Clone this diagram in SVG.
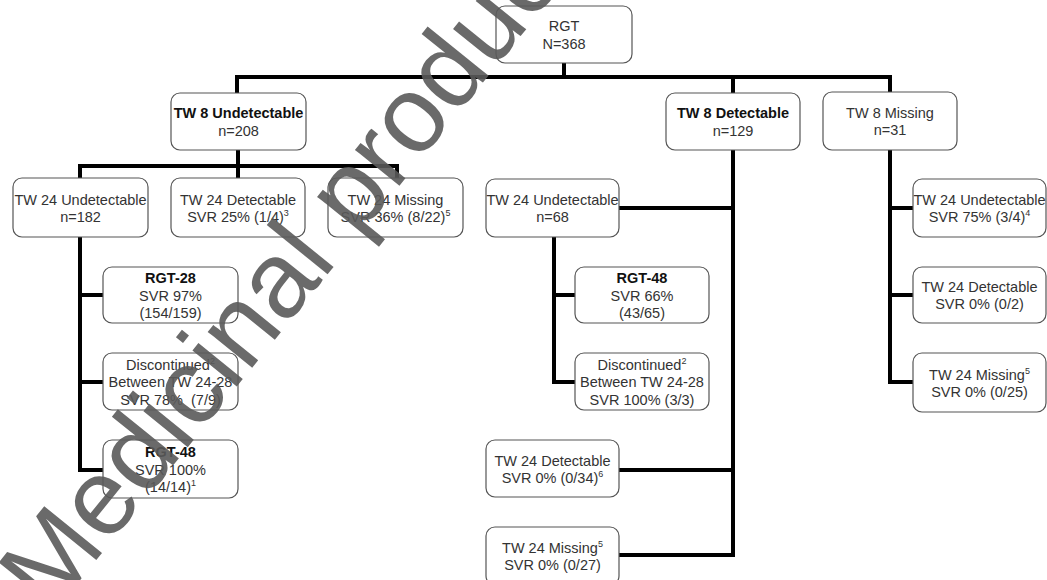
<svg xmlns="http://www.w3.org/2000/svg" width="1047" height="580" viewBox="0 0 1047 580">
<style>
.box{fill:#fff;stroke:#555;stroke-width:1.2}
text{font-family:"Liberation Sans",Arial,sans-serif;font-size:14.5px;fill:#333;text-anchor:middle}
.b{font-weight:bold;fill:#111}
.sup{font-size:9px}
.con{fill:none;stroke:#000;stroke-width:4;stroke-linejoin:miter;stroke-linecap:square}
.wm{font-family:"Liberation Sans",Arial,sans-serif;font-size:108px;fill:#5a5a5a;fill-opacity:0.9;text-anchor:start}
</style>
<rect width="1047" height="580" fill="#fff"/>
<g id="connectors" class="con">
<path d="M564,63 V77 M237,77 H890 M237,77 V93 M733,77 V93 M890,77 V92"/>
<path d="M238,150 V166 M80,166 H397 M80,166 V178 M238,166 V178 M397,166 V178"/>
<path d="M80,237 V470 H103 M80,295 H103 M80,382 H103"/>
<path d="M619,208 H733 M733,150 V555 M619,470 H733 M619,555 H733"/>
<path d="M554,237 V382 H575 M554,295 H575"/>
<path d="M890,150 V382 H913 M890,208 H913 M890,295 H913"/>
</g>
<g id="n_rgt"><rect class="box" x="496" y="6" width="136" height="57" rx="9"/><text x="564" y="31">RGT</text><text x="564" y="48.5">N=368</text></g>
<g id="n_tw8u"><rect class="box" x="171" y="93" width="135" height="57" rx="9"/><text class="b" x="238.5" y="118">TW 8 Undetectable</text><text x="238.5" y="135.5">n=208</text></g>
<g id="n_tw8d"><rect class="box" x="666" y="93" width="134" height="57" rx="9"/><text class="b" x="733" y="118">TW 8 Detectable</text><text x="733" y="135.5">n=129</text></g>
<g id="n_tw8m"><rect class="box" x="823" y="92" width="134" height="58" rx="9"/><text x="890" y="117.5">TW 8 Missing</text><text x="890" y="135">n=31</text></g>
<g id="n_tw24u_a"><rect class="box" x="13" y="178" width="135" height="59" rx="9"/><text x="80.5" y="205">TW 24 Undetectable</text><text x="80.5" y="222">n=182</text></g>
<g id="n_tw24d_a"><rect class="box" x="171" y="178" width="134" height="59" rx="9"/><text x="238" y="205">TW 24 Detectable</text><text x="238" y="222">SVR 25% (1/4)<tspan class="sup" dy="-6">3</tspan></text></g>
<g id="n_tw24m_a"><rect class="box" x="328" y="178" width="135" height="59" rx="9"/><text x="395.5" y="205">TW 24 Missing</text><text x="395.5" y="222">SVR 36% (8/22)<tspan class="sup" dy="-6">5</tspan></text></g>
<g id="n_tw24u_b"><rect class="box" x="486" y="179" width="133" height="58" rx="9"/><text x="552.5" y="205">TW 24 Undetectable</text><text x="552.5" y="222">n=68</text></g>
<g id="n_tw24u_c"><rect class="box" x="913" y="179" width="133" height="58" rx="9"/><text x="979.5" y="205">TW 24 Undetectable</text><text x="979.5" y="222">SVR 75% (3/4)<tspan class="sup" dy="-6">4</tspan></text></g>
<g id="n_tw24d_c"><rect class="box" x="913" y="267" width="133" height="56" rx="9"/><text x="979.5" y="292">TW 24 Detectable</text><text x="979.5" y="309">SVR 0% (0/2)</text></g>
<g id="n_tw24m_c"><rect class="box" x="913" y="353" width="133" height="59" rx="9"/><text x="979.5" y="379.5">TW 24 Missing<tspan class="sup" dy="-6">5</tspan></text><text x="979.5" y="396.5">SVR 0% (0/25)</text></g>
<g id="n_rgt28"><rect class="box" x="103" y="267" width="135" height="56" rx="9"/><text class="b" x="170.5" y="283">RGT-28</text><text x="170.5" y="301">SVR 97%</text><text x="170.5" y="318">(154/159)</text></g>
<g id="n_disc_a"><rect class="box" x="103" y="353" width="135" height="57" rx="9"/><text x="170.5" y="369.5">Discontinued<tspan class="sup" dy="-6">2</tspan></text><text x="170.5" y="387">Between TW 24-28</text><text x="170.5" y="404.5">SVR 78%&#160; (7/9)</text></g>
<g id="n_rgt48_a"><rect class="box" x="103" y="440" width="135" height="58" rx="9"/><text class="b" x="170.5" y="457">RGT-48</text><text x="170.5" y="475">SVR 100%</text><text x="170.5" y="492">(14/14)<tspan class="sup" dy="-6">1</tspan></text></g>
<g id="n_rgt48_b"><rect class="box" x="575" y="267" width="134" height="56" rx="9"/><text class="b" x="642" y="283">RGT-48</text><text x="642" y="301">SVR 66%</text><text x="642" y="318">(43/65)</text></g>
<g id="n_disc_b"><rect class="box" x="575" y="353" width="134" height="57" rx="9"/><text x="642" y="369.5">Discontinued<tspan class="sup" dy="-6">2</tspan></text><text x="642" y="387">Between TW 24-28</text><text x="642" y="404.5">SVR 100% (3/3)</text></g>
<g id="n_tw24d_b"><rect class="box" x="486" y="440" width="133" height="57" rx="9"/><text x="552.5" y="466">TW 24 Detectable</text><text x="552.5" y="483">SVR 0% (0/34)<tspan class="sup" dy="-6">6</tspan></text></g>
<g id="n_tw24m_b"><rect class="box" x="486" y="527" width="133" height="58" rx="9"/><text x="552.5" y="553">TW 24 Missing<tspan class="sup" dy="-6">5</tspan></text><text x="552.5" y="570">SVR 0% (0/27)</text></g>
<g id="watermark"><text class="wm" transform="translate(51,616) rotate(-51)">Medicinal product</text></g>
</svg>
